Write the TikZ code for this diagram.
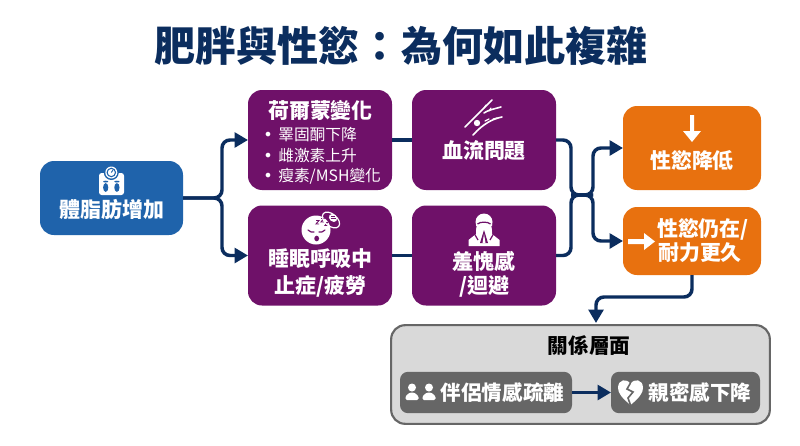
\documentclass[tikz,border=0pt]{standalone}
\usepackage{fontspec}
\setmainfont{Noto Sans CJK TC}
\newfontfamily\djv{DejaVu Sans}
\usetikzlibrary{arrows.meta,positioning}
\definecolor{navy}{HTML}{0B2D5E}
\definecolor{purp}{HTML}{6F1169}
\definecolor{blu}{HTML}{1F63AB}
\definecolor{orng}{HTML}{E8710F}
\definecolor{gfill}{HTML}{D9D9D9}
\definecolor{gdark}{HTML}{666666}
\newcommand{\bul}{\makebox[11.25pt][l]{{\djv\fontsize{12}{14}\selectfont •}}}
\tikzset{
 x=0.75pt,y=-0.75pt,
 boxb/.style={rounded corners=10.5pt,inner sep=0pt,outer sep=0pt},
 bluebox/.style={boxb,fill=blu,minimum width=107.25pt,minimum height=55.5pt},
 purpbox/.style={boxb,fill=purp,minimum width=108pt,minimum height=75pt},
 orangebox/.style={boxb,fill=orng,minimum width=103.5pt},
 graybox/.style={boxb,fill=gfill,draw=gdark,line width=1.6pt,minimum width=284pt,minimum height=74pt},
 innerbox/.style={boxb,rounded corners=6pt,fill=gdark,minimum height=31pt},
 lab/.style={text=white,font=\fontsize{15.7}{18}\selectfont\bfseries,inner sep=0pt},
 lablow/.style={text=white,font=\fontsize{15.4}{18}\selectfont\bfseries,inner sep=0pt},
 small/.style={text=white,font=\fontsize{11.8}{14}\selectfont,inner sep=0pt,anchor=west},
 conn/.style={draw=navy,line width=2.6pt,rounded corners=6pt},
 arr/.style={conn,-{Triangle[length=10pt,width=11pt]}},
 icon/.style={fill=white,draw=none},
}
\begin{document}
\begin{tikzpicture}
\useasboundingbox (0,0) rectangle (800,446);
\fill[white] (0,0) rectangle (800,446);
\node[text=navy,font=\fontsize{30.8}{36}\selectfont\bfseries,inner sep=0pt] (title) at (401,46) {肥胖與性慾：為何如此複雜};

% boxes
\node[bluebox] (blue) at (111.5,198) {};
\node[purpbox] (p1) at (320,140) {};
\node[purpbox] (p2) at (320,255.5) {};
\node[purpbox] (p3) at (484,140) {};
\node[purpbox] (p4) at (484,255.5) {};
\node[orangebox,minimum height=63pt] (o1) at (692,148) {};
\node[orangebox,minimum height=51pt] (o2) at (692,241) {};
\node[graybox] (rel) at (580.5,374.5) {};
\node[innerbox,minimum width=129pt] (i1) at (486,392.5) {};
\node[innerbox,minimum width=111.75pt] (i2) at (685.5,392.5) {};

% junctions
\coordinate (ja) at (222,198);
\coordinate (jb) at (571,195);
\coordinate (jc) at (593,195);
\coordinate (jd) at (692,297);
\coordinate (je) at (596,323);

% connectors
\draw[arr] (blue.east) -- (ja) |- (p1.west);
\draw[arr] (blue.east) -- (ja) |- (p2.west);
\draw[conn] (p1.east) -- (p3.west);
\draw[conn] (p2.east) -- (p4.west);
\draw[conn] (p3.east) -| (jb) -- (jc);
\draw[conn] (p4.east) -| (jb) -- (jc);
\draw[arr] (jb) -- (jc) |- (o1.west);
\draw[arr] (jb) -- (jc) |- (o2.west);
\draw[arr] (o2.south) -- (jd) -| (je);
\draw[arr] (i1.east) -- (i2.west);

% texts
\node[lab] (t1) at (112,209) {體脂肪增加};
\node[lab] (t2) at (320.5,110) {荷爾蒙變化};
\node[small] (b1) at (263,135) {\bul 睪固酮下降};
\node[small] (b2) at (263,155.5) {\bul 雌激素上升};
\node[small] (b3) at (263,176) {\bul 瘦素/MSH變化};
\node[lab] (t3) at (320.5,259) {睡眠呼吸中};
\node[lab] (t4) at (320.5,286) {止症/疲勞};
\node[lab] (t5) at (484,151) {血流問題};
\node[lab] (t6) at (484,261) {羞愧感};
\node[lab] (t7) at (484,286) {/迴避};
\node[lab] (t8) at (692,160) {性慾降低};
\node[lab] (t9) at (703,229) {性慾仍在/};
\node[lab] (t10) at (700,253) {耐力更久};
\node[text=black,font=\fontsize{15.5}{18}\selectfont\bfseries,inner sep=0pt] (t11) at (589,346) {關係層面};
\node[lablow] (t12) at (502.5,393) {伴侶情感疏離};
\node[lablow] (t13) at (700,393) {親密感下降};

% scale icon
\fill[icon,rounded corners=2pt] (99,173) rectangle (124,195);
\fill[blu] (111.3,172.5) circle (7.5);
\fill[icon] (111.3,172.5) circle (6);
\draw[blu,line width=0.8pt] (111.3,172.5) circle (4.2);
\draw[blu,line width=0.7pt] (111.3,172.5) -- (113,170);
\foreach \fx in {105.7,116.9}{
  \fill[blu] (\fx,187.5) ellipse (2.6 and 4.4);
  \fill[blu] (\fx,181.6) ellipse (2.6 and 0.9);
}

% sleeping face
\fill[icon] (316,230) circle (14.5);
\draw[purp,line width=0.9pt,line cap=round] (308,230) .. controls (310,232) and (312,232.5) .. (314,232);
\draw[purp,line width=0.9pt,line cap=round] (319,232) .. controls (321,232.5) and (323,232) .. (325,230);
\fill[purp] (316.7,238.5) ellipse (2.4 and 2.8);
\draw[purp,line width=0.7pt] (316,220.5) -- (319,220.5) -- (316,224) -- (319,224);
\draw[purp,line width=0.7pt] (321,218.5) -- (324,218.5) -- (321,222) -- (324,222);
\draw[purp,line width=0.7pt] (325,222.5) -- (327.5,222.5) -- (325,225.5) -- (327.5,225.5);
\draw[white,line width=0.9pt,rotate around={-40:(331,220)}] (331,220) ellipse (10 and 6);
\fill[icon,rotate around={-40:(333,218)}] (333,218) ellipse (4.5 and 3.5);
\draw[purp,line width=0.6pt] (330.5,218) -- (335.5,218) (331,216) -- (335,216);

% blood-vessel icon
\draw[white,line width=1.2pt,line cap=round] (465,127) -- (492,100);
\draw[white,line width=1.2pt,line cap=round] (473,135) .. controls (483,124) and (492,119) .. (502,117);
\draw[white,line width=1.2pt,line cap=round] (484,113) .. controls (488,110) and (494,109) .. (501,107);
\fill[icon] (477,123) circle (3.2);
\draw[white,line width=0.9pt,line cap=round] (484,108) -- (486,105) (489,111) -- (491,108) (485,121) -- (489,119) (493,119) -- (497,118);

% covering-face icon
\fill[icon] (484,222) circle (8.5);
\fill[icon] (468.5,246) -- (468.5,240) -- (476,234) -- (476,224) -- (492,224) -- (492,234) -- (499.5,240) -- (499.5,246) -- cycle;
\draw[purp,line width=0.9pt] (477.5,224) .. controls (480,221.5) and (488,221.5) .. (490.5,224);
\fill[purp] (484,230) -- (480,243) -- (488,243) -- cycle;
\fill[icon] (484,234) -- (482.5,243) -- (485.5,243) -- cycle;
\draw[purp,line width=0.9pt] (476,226) -- (474.5,234) -- (478,240) (492,226) -- (493.5,234) -- (490,240);

% orange arrows
\fill[icon] (690,115) -- (694,115) -- (694,131) -- (701,131) -- (692,142) -- (683,131) -- (690,131) -- cycle;
\fill[icon] (628,239) -- (644,239) -- (644,233) -- (655,241.5) -- (644,250) -- (644,244) -- (628,244) -- cycle;

% people icon
\foreach \cx in {412,429}{
  \fill[icon] (\cx,387.5) circle (4);
  \fill[icon,rounded corners=1pt] (\cx-6.5,400) -- (\cx-6.5,396) -- (\cx-2,392.5) -- (\cx+2,392.5) -- (\cx+6.5,396) -- (\cx+6.5,400) -- cycle;
}

% broken heart
\fill[icon] (630.5,405) .. controls (622,398) and (618,393) .. (618,388)
  .. controls (618,379) and (627,378) .. (630.5,384)
  .. controls (634,378) and (643,379) .. (643,388)
  .. controls (643,393) and (639,398) .. (630.5,405) -- cycle;
\draw[gdark,line width=1.2pt] (630.5,383) -- (627,389) -- (633,392) -- (628,398) -- (630.5,405);
\end{tikzpicture}
\end{document}
